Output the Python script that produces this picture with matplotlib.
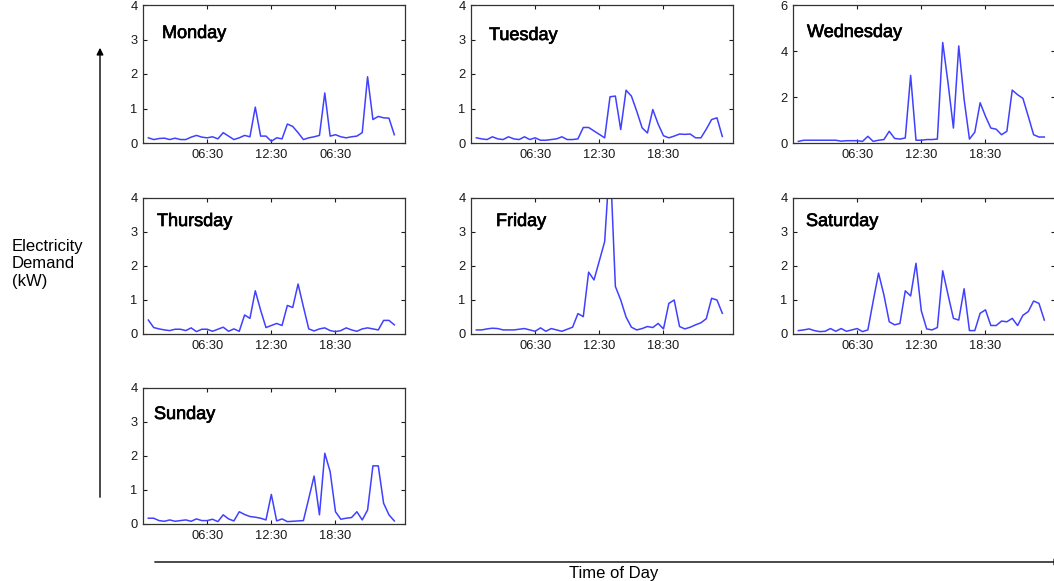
import numpy as np
import matplotlib
matplotlib.use("Agg")
import matplotlib.pyplot as plt
import matplotlib.patheffects as pe

plt.rcParams["font.family"] = ["Liberation Sans", "DejaVu Sans"]

days = ["Monday", "Tuesday", "Wednesday", "Thursday", "Friday", "Saturday", "Sunday"]
tick_idx = [12, 24, 36]
tick_labels = ["06:30", "12:30", "18:30"]
monday_tick_labels = ["06:30", "12:30", "06:30"]

# half-hourly demand readings (kW)
monday = [0.15, 0.10, 0.13, 0.14, 0.10, 0.14, 0.10, 0.10, 0.17, 0.22, 0.17, 0.15,
          0.18, 0.12, 0.30, 0.20, 0.10, 0.15, 0.22, 0.18, 1.04, 0.20, 0.20, 0.05,
          0.15, 0.12, 0.55, 0.48, 0.30, 0.10, 0.15, 0.18, 0.22, 1.45, 0.20, 0.24,
          0.18, 0.15, 0.18, 0.20, 0.30, 1.92, 0.68, 0.77, 0.73, 0.72, 0.24]
tuesday = [0.15, 0.12, 0.10, 0.18, 0.12, 0.10, 0.18, 0.12, 0.10, 0.18, 0.10, 0.15,
           0.08, 0.08, 0.10, 0.12, 0.18, 0.10, 0.10, 0.12, 0.45, 0.45, 0.35, 0.25,
           0.15, 1.34, 1.36, 0.39, 1.53, 1.36, 0.92, 0.44, 0.29, 0.97, 0.55, 0.21,
           0.15, 0.20, 0.26, 0.25, 0.26, 0.15, 0.15, 0.40, 0.68, 0.73, 0.19]
wednesday = [0.07, 0.12, 0.12, 0.12, 0.12, 0.12, 0.12, 0.12, 0.08, 0.10, 0.10, 0.10,
             0.07, 0.29, 0.07, 0.12, 0.15, 0.51, 0.20, 0.17, 0.22, 2.94, 0.12, 0.12,
             0.15, 0.15, 0.17, 4.37, 2.60, 0.65, 4.22, 1.90, 0.17, 0.47, 1.75, 1.16,
             0.65, 0.60, 0.36, 0.51, 2.30, 2.10, 1.94, 1.16, 0.36, 0.26, 0.26]
thursday = [0.41, 0.19, 0.15, 0.12, 0.10, 0.14, 0.14, 0.10, 0.18, 0.07, 0.14, 0.14,
            0.08, 0.14, 0.20, 0.08, 0.15, 0.08, 0.56, 0.46, 1.27, 0.70, 0.19, 0.25,
            0.31, 0.25, 0.84, 0.78, 1.47, 0.80, 0.15, 0.09, 0.15, 0.18, 0.10, 0.07,
            0.10, 0.18, 0.12, 0.08, 0.15, 0.18, 0.15, 0.12, 0.40, 0.40, 0.27]
friday = [0.12, 0.12, 0.15, 0.17, 0.16, 0.12, 0.12, 0.12, 0.14, 0.16, 0.12, 0.08,
          0.18, 0.08, 0.16, 0.12, 0.08, 0.14, 0.20, 0.60, 0.51, 1.82, 1.59, 2.15,
          2.72, 5.20, 1.40, 1.00, 0.50, 0.20, 0.12, 0.16, 0.22, 0.19, 0.31, 0.15,
          0.90, 1.00, 0.22, 0.15, 0.20, 0.27, 0.33, 0.45, 1.05, 1.00, 0.61]
saturday = [0.10, 0.12, 0.15, 0.10, 0.07, 0.08, 0.16, 0.08, 0.16, 0.08, 0.12, 0.16,
            0.07, 0.12, 0.97, 1.79, 1.15, 0.36, 0.27, 0.31, 1.27, 1.12, 2.08, 0.68,
            0.15, 0.12, 0.19, 1.86, 1.15, 0.46, 0.41, 1.33, 0.10, 0.10, 0.61, 0.71,
            0.25, 0.25, 0.38, 0.36, 0.46, 0.25, 0.55, 0.66, 0.97, 0.90, 0.41]
sunday = [0.17, 0.17, 0.10, 0.08, 0.12, 0.08, 0.10, 0.12, 0.08, 0.15, 0.10, 0.10,
          0.14, 0.07, 0.27, 0.15, 0.09, 0.36, 0.28, 0.22, 0.20, 0.17, 0.12, 0.87,
          0.09, 0.15, 0.07, 0.08, 0.09, 0.10, 0.75, 1.41, 0.27, 2.08, 1.54, 0.36,
          0.14, 0.17, 0.19, 0.36, 0.12, 0.41, 1.71, 1.71, 0.61, 0.27, 0.09]
series = [monday, tuesday, wednesday, thursday, friday, saturday, sunday]
ymax = [4, 4, 6, 4, 4, 4, 4]

W, H = 1054, 581
fig = plt.figure(figsize=(W / 100, H / 100), dpi=100)

# panel boxes in pixels: left, top, bottom
cols = [143, 471, 793]
rows = [(5, 143), (198, 334), (388, 524)]
pw = 262
label_dx = [19, 18, 14, 14, 25, 13, 11]   # px from left edge to day name
label_dy = [20, 22, 19, 15, 15, 15, 18]   # px from top edge to day name

for i, (day, vals) in enumerate(zip(days, series)):
    r, c = divmod(i, 3)
    top, bot = rows[r]
    ax = fig.add_axes([cols[c] / W, 1 - bot / H, pw / W, (bot - top) / H])
    x = np.arange(1, len(vals) + 1)
    ax.plot(x, vals, color="#4040ff", lw=1.1)
    ax.set_xlim(0, 49)
    ax.set_ylim(0, ymax[i])
    ax.set_yticks(np.arange(0, ymax[i] + 1, 2 if ymax[i] == 6 else 1))
    ax.set_xticks(tick_idx)
    ax.set_xticklabels(monday_tick_labels if day == "Monday" else tick_labels)
    ax.tick_params(direction="in", length=3, top=True, right=True,
                   labelsize=9.3, pad=4, colors="#1a1a1a", width=0.8)
    for s in ax.spines.values():
        s.set_color("#333333")
        s.set_linewidth(0.9)
    h = bot - top
    ax.text(label_dx[i] / pw, 1 - label_dy[i] / h, day, transform=ax.transAxes,
            ha="left", va="top", fontsize=13, color="black",
            path_effects=[pe.withStroke(linewidth=0.5, foreground="black")])

# axis captions with arrows
fig.text(12 / W, 1 - 264 / H, "Electricity\nDemand\n(kW)", ha="left", va="center",
         fontsize=12, linespacing=1.2)
fig.add_artist(matplotlib.patches.FancyArrowPatch(
    (100 / W, 1 - 500 / H), (100 / W, 1 - 45 / H), transform=fig.transFigure,
    arrowstyle="-|>", mutation_scale=10, color="black", lw=1))
fig.add_artist(matplotlib.patches.FancyArrowPatch(
    (152 / W, 1 - 562 / H), (1064 / W, 1 - 562 / H), transform=fig.transFigure,
    arrowstyle="-|>", mutation_scale=10, color="black", lw=1))
fig.text(614 / W, 1 - 566 / H, "Time of Day", ha="center", va="top", fontsize=12)

fig.savefig("out.png", dpi=100)
